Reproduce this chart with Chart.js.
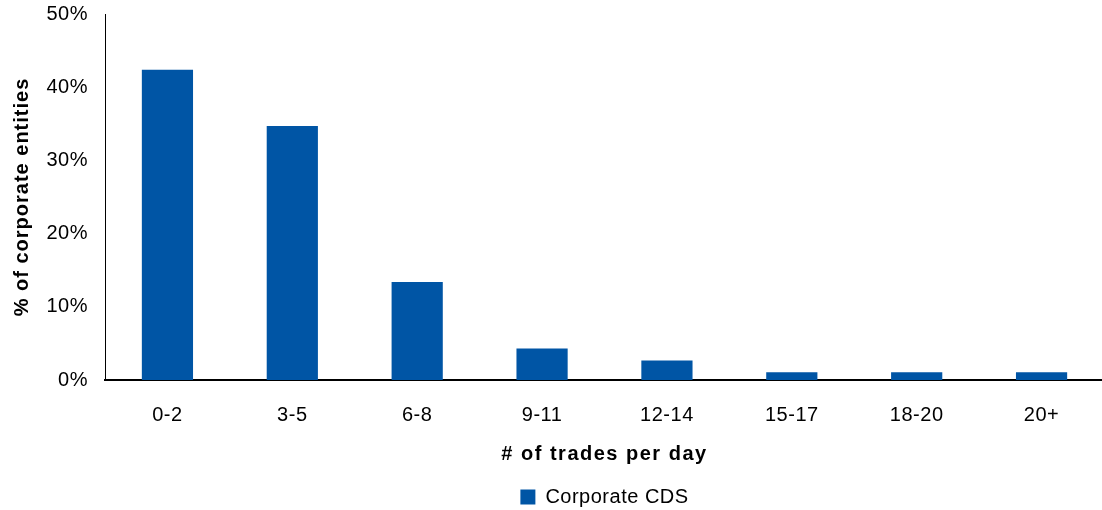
<!DOCTYPE html>
<html>
<head>
<meta charset="utf-8">
<script src="https://cdn.jsdelivr.net/npm/chart.js@4/dist/chart.umd.min.js"></script>
<style>
  html, body { margin: 0; padding: 0; background: #fff; overflow: hidden; }
  #wrap { width: 1104px; height: 510px; position: relative; }
</style>
</head>
<body>
<div id="wrap"><canvas id="c"></canvas></div>
<script>
const categories = ['0-2', '3-5', '6-8', '9-11', '12-14', '15-17', '18-20', '20+'];
const corporateCDS = [42.4, 34.7, 13.4, 4.3, 2.65, 1.05, 1.05, 1.05];
const yTicks = [0, 10, 20, 30, 40, 50];
const seriesName = 'Corporate CDS';
const xTitle = '# of trades per day';
const yTitle = '% of corporate entities';

const FONT = "'Liberation Sans', Arial, sans-serif";
Chart.defaults.font.family = FONT;
Chart.defaults.color = '#000';

function spaced(scale, px) {
  if (scale._spacedPatched) return;
  const orig = scale.drawTitle;
  scale.drawTitle = function () {
    const ctx = this.ctx;
    ctx.save();
    ctx.letterSpacing = px;
    orig.apply(this, arguments);
    ctx.restore();
  };
  scale._spacedPatched = true;
}

const spacingPlugin = {
  id: 'spacing',
  beforeUpdate(chart) { chart.ctx.letterSpacing = '0.5px'; },
  beforeLayout(chart) { chart.ctx.letterSpacing = '0.5px'; },
  afterLayout(chart) {
    spaced(chart.scales.x, '1.5px');
    spaced(chart.scales.y, '1px');
  },
  beforeDraw(chart) { chart.ctx.letterSpacing = '0.5px'; }
};

new Chart(document.getElementById('c'), {
  type: 'bar',
  plugins: [spacingPlugin],
  data: {
    labels: categories,
    datasets: [{
      label: seriesName,
      data: corporateCDS,
      backgroundColor: '#0055A5',
      borderWidth: 0,
      barPercentage: 0.41,
      categoryPercentage: 1.0
    }]
  },
  options: {
    responsive: true,
    maintainAspectRatio: false,
    animation: false,
    layout: { padding: { left: 4, right: 0, top: 0, bottom: -7 } },
    plugins: {
      legend: {
        position: 'bottom',
        fullSize: false,
        labels: {
          boxWidth: 15, boxHeight: 15, padding: 4,
          font: { size: 20, family: FONT }, color: '#000'
        }
      },
      tooltip: { enabled: false }
    },
    scales: {
      x: {
        grid: { display: false, drawTicks: false },
        border: { display: true, color: '#000', width: 2 },
        ticks: { padding: 23, font: { size: 20, family: FONT }, color: '#000' },
        title: {
          display: true, text: xTitle,
          font: { size: 20, weight: 'bold', family: FONT }, color: '#000',
          padding: { top: 12, bottom: 17 }
        },
        afterFit: (s) => { s.height = 103; }
      },
      y: {
        min: 0, max: 50,
        afterBuildTicks: (axis) => { axis.ticks = yTicks.map(v => ({ value: v })); },
        grid: { display: false, drawTicks: false },
        border: { display: true, color: '#000', width: 1 },
        ticks: {
          padding: 17, font: { size: 20, family: FONT }, color: '#000',
          callback: (v) => v + '%'
        },
        title: {
          display: true, text: yTitle,
          font: { size: 20, weight: 'bold', family: FONT }, color: '#000',
          padding: { top: 6, bottom: 13 }
        },
        afterFit: (s) => { s.width = 101; s.paddingTop = 14; s.paddingBottom = 0; }
      }
    }
  }
});
</script>
</body>
</html>
